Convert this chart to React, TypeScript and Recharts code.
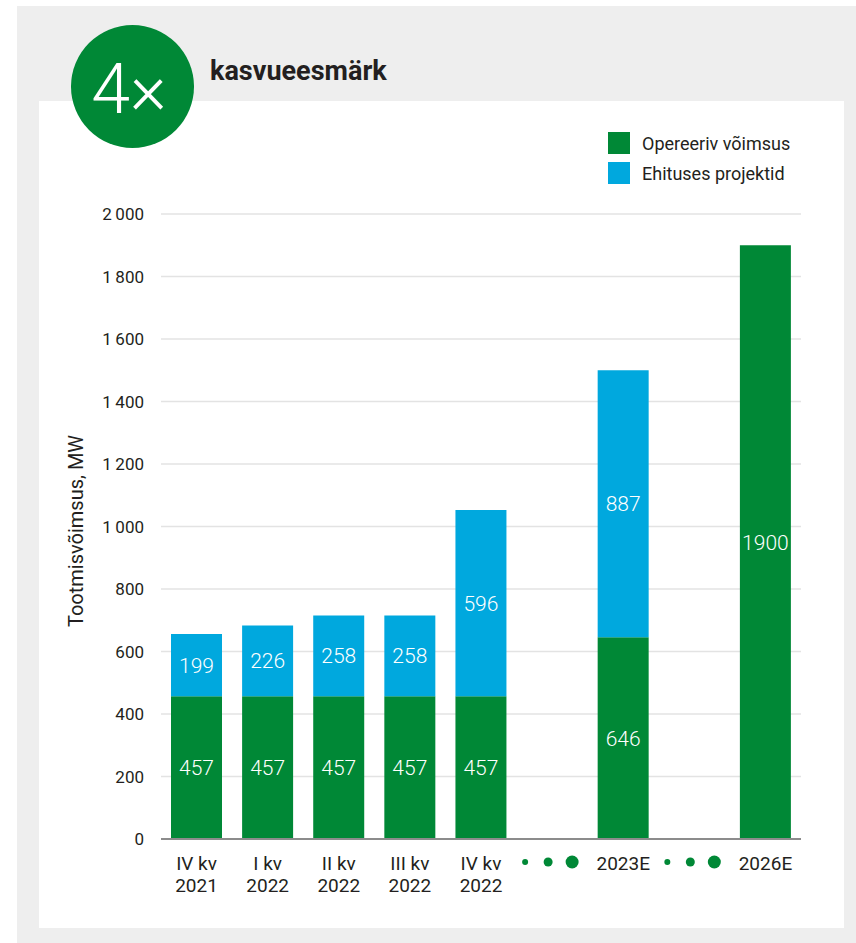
import { Bar, BarChart, CartesianGrid, LabelList, Legend, XAxis, YAxis } from "recharts";

const categories = ["IV kv 2021", "I kv 2022", "II kv 2022", "III kv 2022", "IV kv 2022", "gap-1", "2023E", "gap-2", "2026E"];
const operating = [457, 457, 457, 457, 457, null, 646, null, 1900];
const construction = [199, 226, 258, 258, 596, null, 854, null, null];
const constructionLabels = ["199", "226", "258", "258", "596", "", "887", "", ""];
const yTicks = [0, 200, 400, 600, 800, 1000, 1200, 1400, 1600, 1800, 2000];

const seriesNames = { operating: "Opereeriv võimsus", construction: "Ehituses projektid" };

const GREEN = "#008836";
const BLUE = "#00a8de";
const INK = "#231f20";
const FONT = "Roboto, 'Noto Sans', sans-serif";

const data = categories.map((name, i) => ({
  name,
  operating: operating[i],
  construction: construction[i],
  constructionLabel: constructionLabels[i] || null,
}));

function formatTick(v: number) {
  if (v >= 1000) {
    const s = String(v);
    return s.slice(0, s.length - 3) + "\u2009" + s.slice(-3);
  }
  return String(v);
}

function CategoryTick({ x, y, payload }: any) {
  const name: string = payload.value;
  if (name.startsWith("gap")) {
    return (
      <g>
        <circle cx={x - 27} cy={y + 15} r={3} fill={GREEN} />
        <circle cx={x - 4} cy={y + 15} r={4.5} fill={GREEN} />
        <circle cx={x + 20} cy={y + 15} r={6.5} fill={GREEN} />
      </g>
    );
  }
  const parts = name.split(" ");
  const lines = parts.length > 1 ? [parts.slice(0, -1).join(" "), parts[parts.length - 1]] : [name];
  return (
    <g>
      {lines.map((line, i) => (
        <text key={line} x={x} y={y + 23 + i * 22} textAnchor="middle" fill={INK} fontSize={19} fontFamily={FONT}>
          {line}
        </text>
      ))}
    </g>
  );
}

function LegendBox() {
  const items = [
    { label: seriesNames.operating, color: GREEN },
    { label: seriesNames.construction, color: BLUE },
  ];
  return (
    <div style={{ fontFamily: FONT }}>
      {items.map((item) => (
        <div key={item.label} style={{ display: "flex", alignItems: "center", height: 22, marginBottom: 8 }}>
          <span style={{ width: 22, height: 22, background: item.color, display: "inline-block" }} />
          <span style={{ marginLeft: 12, fontSize: 18, color: INK, whiteSpace: "nowrap" }}>{item.label}</span>
        </div>
      ))}
    </div>
  );
}

function AxisTitle({ viewBox }: any) {
  const cx = viewBox.x + 76;
  const cy = 531;
  return (
    <text x={cx} y={cy} transform={`rotate(-90 ${cx} ${cy})`} textAnchor="middle" dominantBaseline="central" fill={INK} fontSize={20} fontFamily={FONT}>
      Tootmisvõimsus, MW
    </text>
  );
}

export default function App() {
  return (
    <div style={{ position: "absolute", left: 0, top: 0, width: 856, height: 943, background: "#fff", fontFamily: FONT }}>
      <div style={{ position: "absolute", left: 17, top: 6, width: 839, height: 937, background: "#eeeeee" }} />
      <div style={{ position: "absolute", left: 39, top: 101, width: 805, height: 827, background: "#ffffff" }} />
      <svg width={856} height={160} style={{ position: "absolute", left: 0, top: 0 }}>
        <circle cx={132.5} cy={86.5} r={61.5} fill={GREEN} />
        <text x={129} y={113} textAnchor="middle" fill="#fff" fontSize={70} fontWeight={300} fontFamily={FONT}>
          4×
        </text>
        <text x={210} y={80} fill={INK} fontSize={27} fontWeight={700} fontFamily={FONT}>
          kasvueesmärk
        </text>
      </svg>
      <div style={{ position: "absolute", left: 0, top: 0 }}>
        <BarChart width={856} height={943} data={data} margin={{ top: 214, right: 55, bottom: 0, left: 0 }}>
          <CartesianGrid vertical={false} stroke="#e3e3e3" strokeWidth={1.5} />
          <XAxis
            dataKey="name"
            tick={<CategoryTick />}
            interval={0}
            tickLine={false}
            axisLine={{ stroke: "#8c8c8c", strokeWidth: 2 }}
            height={104}
          />
          <YAxis
            domain={[0, 2000]}
            ticks={yTicks}
            tickFormatter={formatTick}
            width={161}
            tickLine={false}
            axisLine={false}
            tickMargin={11}
            tick={{ fill: INK, fontSize: 17, fontFamily: FONT }}
            label={<AxisTitle />}
          />
          <Legend
            layout="vertical"
            align="center"
            verticalAlign="middle"
            content={<LegendBox />}
            wrapperStyle={{ top: 132, left: 608, width: 230, height: 60 }}
          />
          <Bar dataKey="operating" name={seriesNames.operating} stackId="a" fill={GREEN} barSize={51} isAnimationActive={false}>
            <LabelList dataKey="operating" position="center" fill="#fff" fontSize={21} fontWeight={300} fontFamily={FONT} />
          </Bar>
          <Bar dataKey="construction" name={seriesNames.construction} stackId="a" fill={BLUE} barSize={51} isAnimationActive={false}>
            <LabelList dataKey="constructionLabel" position="center" fill="#fff" fontSize={21} fontWeight={300} fontFamily={FONT} />
          </Bar>
        </BarChart>
      </div>
    </div>
  );
}
